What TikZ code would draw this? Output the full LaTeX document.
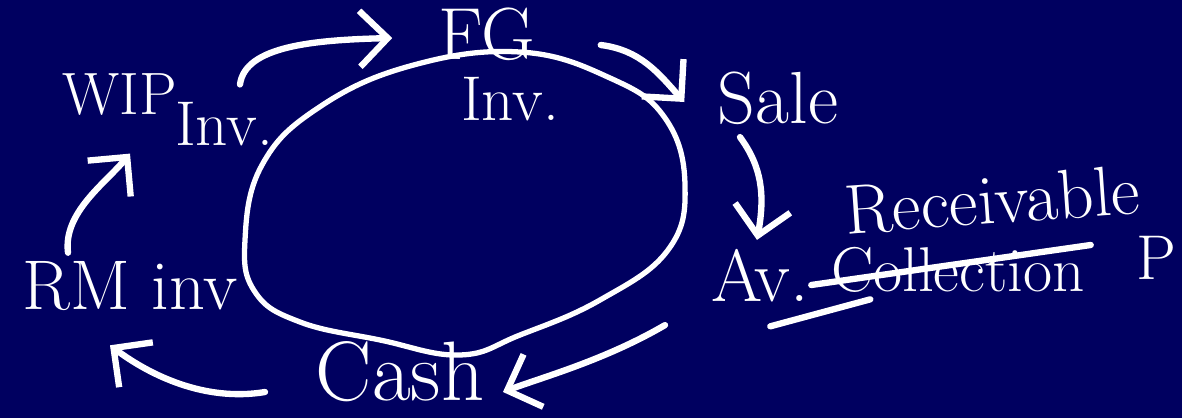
\documentclass[tikz,border=0pt]{standalone}
\usepackage{xcolor}
\usetikzlibrary{arrows.meta}
\definecolor{board}{HTML}{000060}

\begin{document}
\begin{tikzpicture}[
  x=0.01cm, y=-0.01cm,
  font=\fontsize{18}{20}\selectfont,
  lbl/.style={text=white, inner sep=0pt},
  big/.style={font=\fontsize{21}{23}\selectfont},
  arr/.style={-{Straight Barb[length=2.8mm, width=5.6mm]}, line width=1.8pt, line cap=round, white},
  loop/.style={line width=1.5pt, white, line join=round},
  strike/.style={line width=1.8pt, line cap=round, white}
]
\fill[board] (0,0) rectangle (1182,418);
\useasboundingbox (0,0) rectangle (1182,418);

\node[lbl, font=\fontsize{17}{19}\selectfont] (wip) at (120,95) {WIP};
\node[lbl] (wipinv) at (224,124) {Inv.};
\node[lbl, big] (fg) at (487,34) {FG};
\node[lbl] (fginv) at (510,99) {Inv.};
\node[lbl, big] (sale) at (778,98) {Sale};
\node[lbl, font=\fontsize{20}{22}\selectfont, rotate=4] (recv) at (992,200) {Receivable};
\node[lbl, big] (av) at (760,276) {Av.};
\node[lbl] (coll) at (958,270) {Collection};
\node[lbl] (per) at (1156,258) {P};
\node[lbl, font=\fontsize{20}{22}\selectfont] (rm) at (130,286) {RM inv};
\node[lbl, font=\fontsize{24}{26}\selectfont] (cash) at (400,372) {Cash};

% the cycle
\draw[loop] plot[smooth cycle, tension=0.7] coordinates {
  (245,240) (262,165) (318,108) (410,66) (520,52) (610,78) (665,118)
  (685,185) (668,250) (600,300) (520,335) (460,355) (380,340)
  (300,322) (255,292)};

\draw[arr] ([shift={(16,-17)}]wipinv.north) .. controls +(5,-38) and +(-80,2) .. ([shift={(-46,4)}]fg.west);
\draw[arr] ([shift={(65,11)}]fg.east) .. controls +(40,5) and +(-25,-28) .. ([shift={(-33,4)}]sale.west);
\draw[arr] ([shift={(-38,12)}]sale.south) .. controls +(22,30) and +(8,-45) .. ([shift={(-3,-9)}]av.north);
\draw[arr] ([shift={(-95,22)}]av.south) .. controls +(-60,35) and +(40,-15) .. ([shift={(18,20)}]cash.east);
\draw[arr] ([shift={(-50,20)}]cash.west) .. controls +(-60,10) and +(40,30) .. ([shift={(-20,34)}]rm.south);
\draw[arr] ([shift={(-62,-8)}]rm.north) .. controls +(-5,-40) and +(-25,30) .. ([shift={(10,37)}]wip.south);

% crossed out word
\draw[strike] ([shift={(-19,15)}]coll.west) -- ([shift={(5,-25)}]coll.east);
\draw[strike] ([shift={(-60,33)}]coll.south west) -- ([shift={(40,6)}]coll.south west);
\end{tikzpicture}
\end{document}
